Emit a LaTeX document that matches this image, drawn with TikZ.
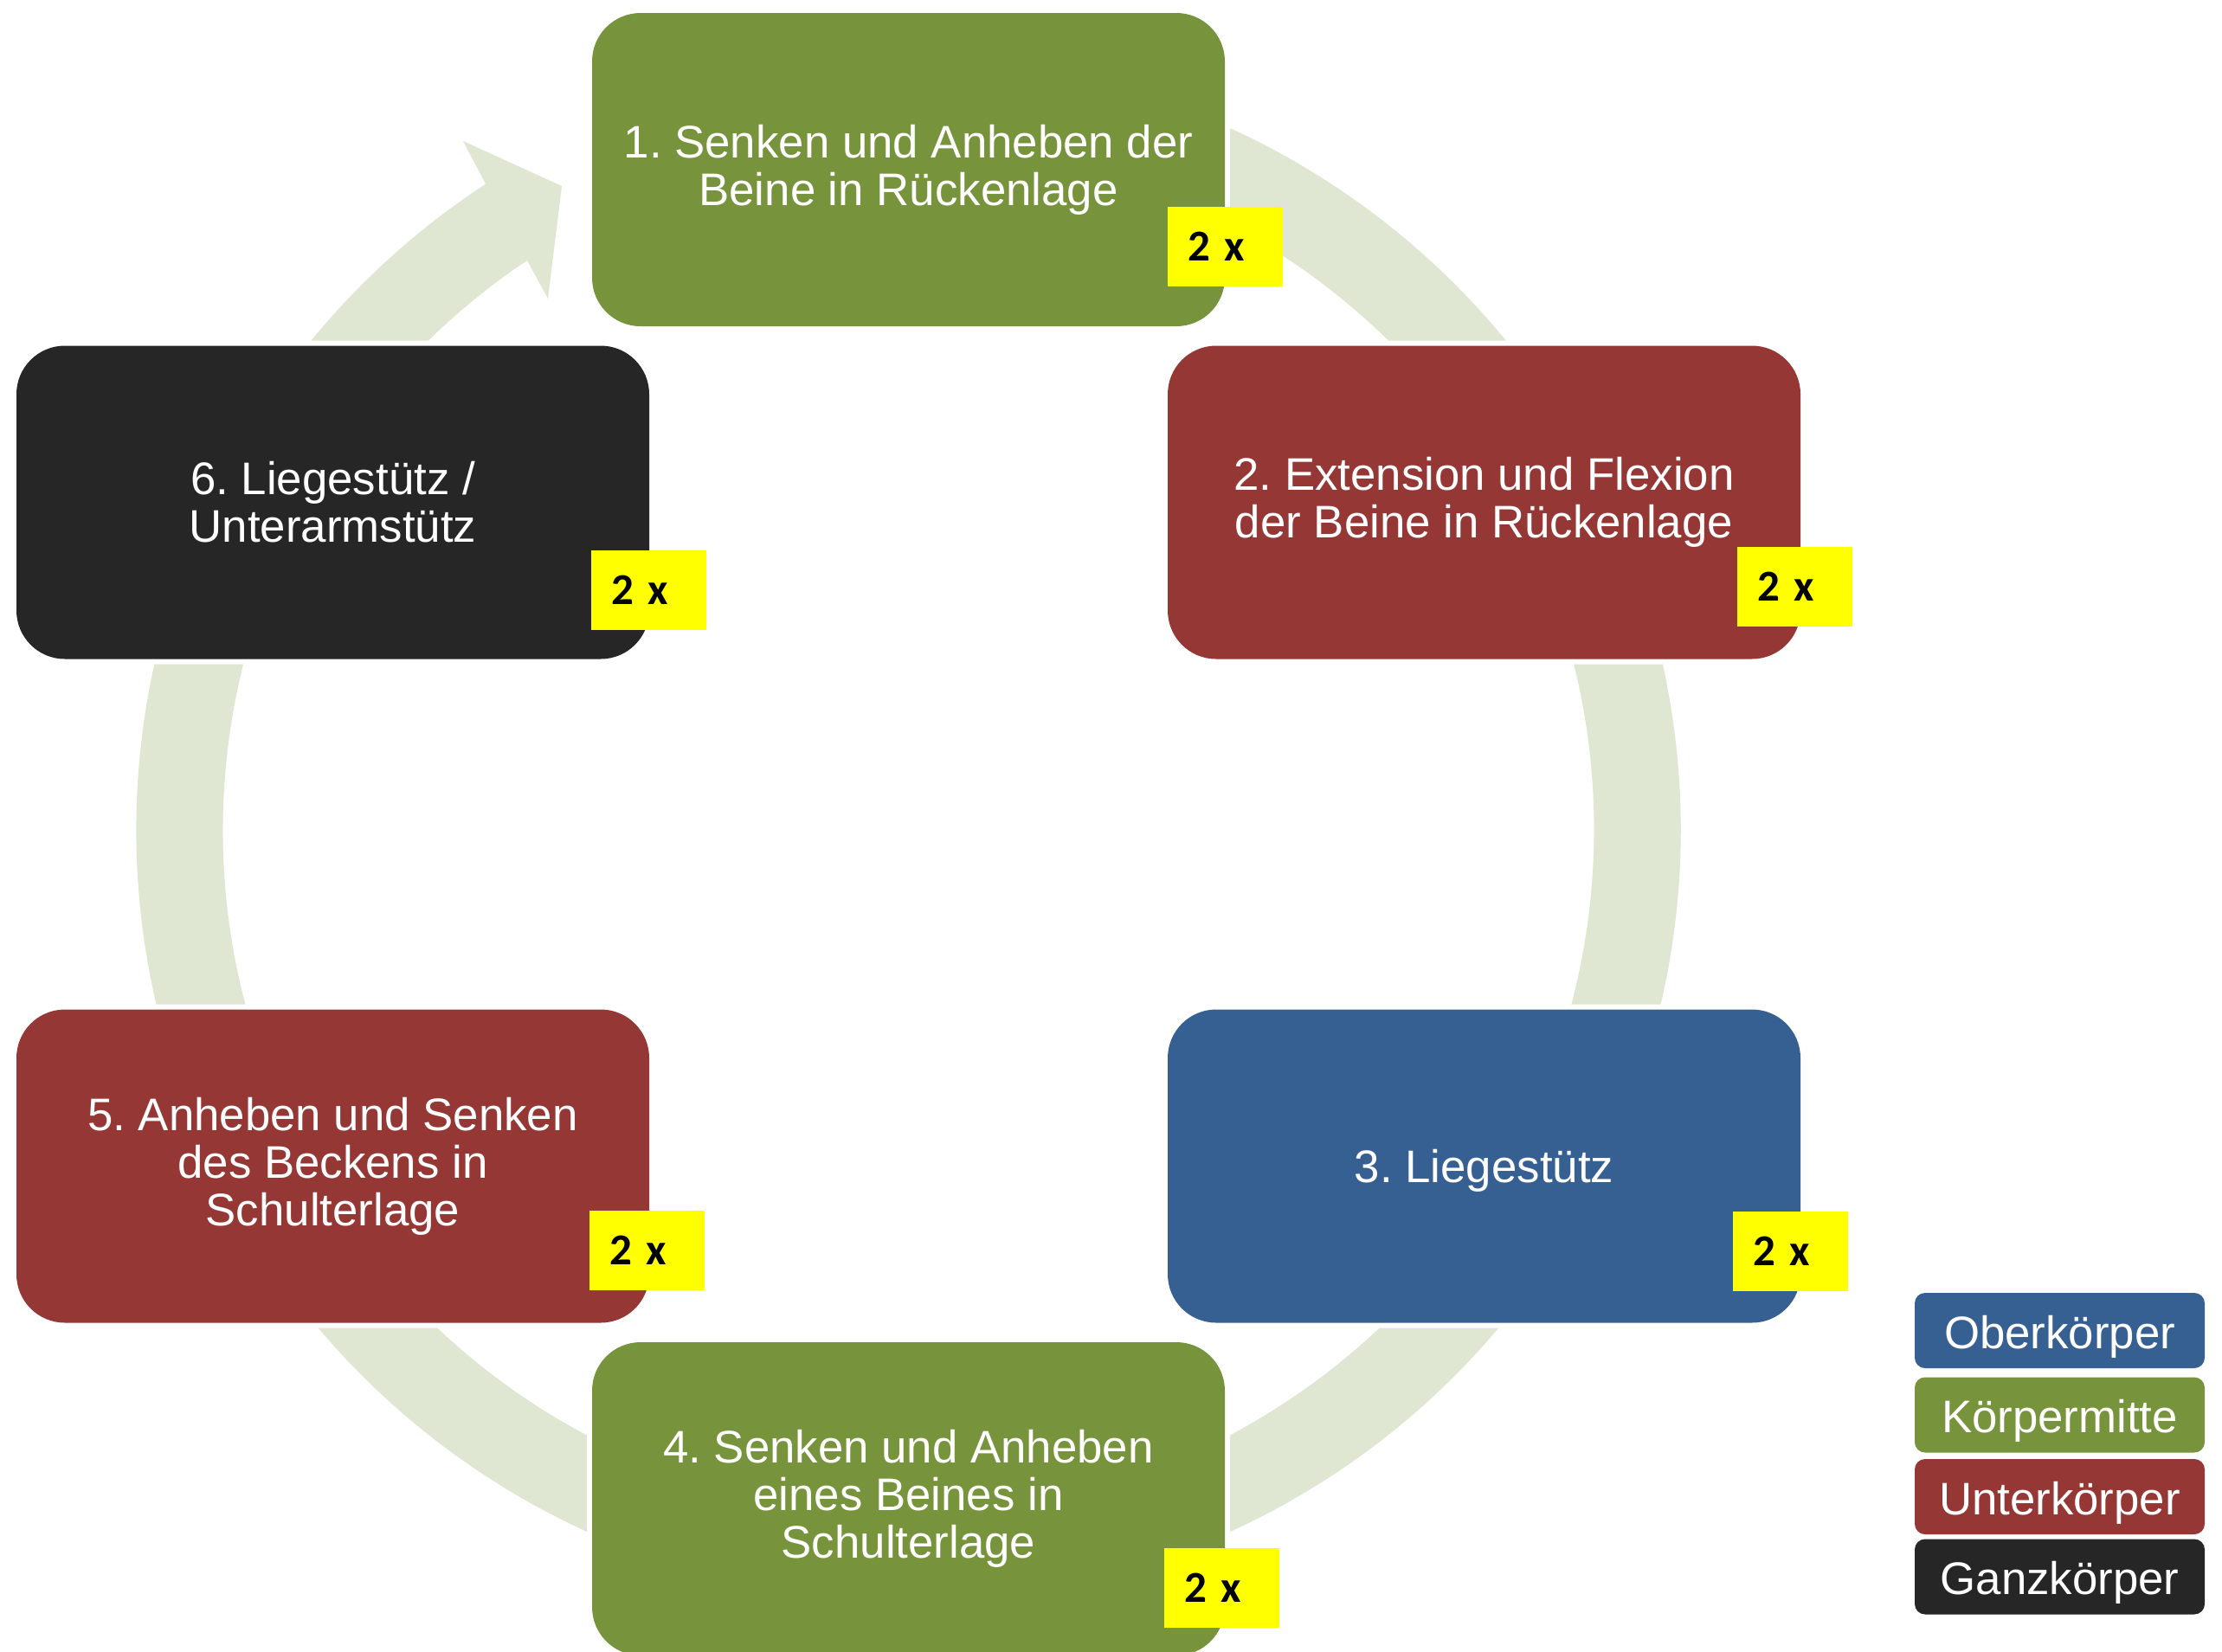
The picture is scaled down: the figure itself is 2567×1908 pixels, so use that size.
\documentclass[tikz,border=0pt]{standalone}
\usepackage{fontspec}
\setmainfont{Liberation Sans}
\newfontfamily\twoxfont{Carlito}
\usetikzlibrary{calc}
\frenchspacing
\definecolor{ringc}{HTML}{DFE6D1}
\definecolor{cgreen}{HTML}{77933C}
\definecolor{cred}{HTML}{953735}
\definecolor{cblue}{HTML}{376092}
\definecolor{cblack}{HTML}{262626}
\definecolor{cyellow}{HTML}{FFFF00}
\begin{document}
\begin{tikzpicture}[x=0.3pt,y=-0.3pt,
  stepbox/.style={rounded corners=16.8pt, minimum width=219.3pt, minimum height=108.6pt,
    inner sep=0pt, align=center, text=white, font=\fontsize{15.84}{16.5}\selectfont\frenchspacing,
    execute at begin node={\rule{0pt}{14.5pt}},
    preaction={draw=white, line width=3.6pt}},
  countbox/.style={fill=cyellow, minimum height=27.6pt, text width=26.1pt, inner xsep=6.9pt,
    inner ysep=0pt, align=left, text=black, font=\twoxfont\bfseries\fontsize{15.3}{16}\selectfont},
  legbox/.style={rounded corners=3.6pt, minimum width=100.5pt, minimum height=26.1pt,
    inner sep=0pt, text height=15.6pt, text depth=3.3pt, text=white,
    font=\fontsize{15.84}{16.5}\selectfont}
]
\fill[white] (0,0) rectangle (2567,1908);
\useasboundingbox (0,0) rectangle (2567,1908);

% circular arrow
\coordinate (C) at (1049.5,959);
\fill[ringc] ($(C)+(-110:892)$) arc[start angle=-110, end angle=236.8, radius=892]
  -- (535,163) -- (649,215) -- (633,345) -- ($(C)+(236.2:792)$)
  arc[start angle=236.2, end angle=-110, radius=792] -- cycle;

% step boxes
\node[stepbox, fill=cgreen] (s1) at (1049.5,196) {1. Senken und Anheben der\\Beine in Rückenlage};
\node[stepbox, fill=cred]   (s2) at (1714.5,580.5) {2. Extension und Flexion\\der Beine in Rückenlage};
\node[stepbox, fill=cblue]  (s3) at (1714.5,1347.5) {3. Liegestütz};
\node[stepbox, fill=cgreen] (s4) at (1049.5,1732) {4. Senken und Anheben\\eines Beines in\\Schulterlage};
\node[stepbox, fill=cred]   (s5) at (384.5,1347.5) {5. Anheben und Senken\\des Beckens in\\Schulterlage};
\node[stepbox, fill=cblack] (s6) at (384.5,580.5) {6. Liegestütz /\\Unterarmstütz};

% repetition labels
\node[countbox] (c1) at (1415.5,284.5) {2 x};
\node[countbox] (c2) at (2073.5,678) {2 x};
\node[countbox] (c3) at (2068.5,1445.5) {2 x};
\node[countbox] (c4) at (1411.5,1834.5) {2 x};
\node[countbox] (c5) at (747.5,1444.5) {2 x};
\node[countbox] (c6) at (749.5,681.5) {2 x};

% legend
\node[legbox, fill=cblue]  (l1) at (2379.5,1537.5) {Oberkörper};
\node[legbox, fill=cgreen] (l2) at (2379.5,1635) {Körpermitte};
\node[legbox, fill=cred]   (l3) at (2379.5,1729.5) {Unterkörper};
\node[legbox, fill=cblack] (l4) at (2379.5,1822) {Ganzkörper};
\end{tikzpicture}
\end{document}
